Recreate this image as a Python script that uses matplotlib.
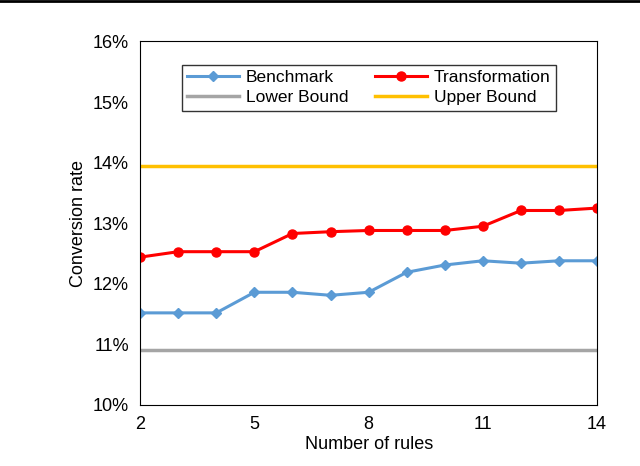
import matplotlib
matplotlib.use("Agg")
import matplotlib.pyplot as plt
from matplotlib.ticker import FuncFormatter

rules = list(range(2, 15))
benchmark = [11.52, 11.52, 11.52, 11.86, 11.86, 11.81, 11.86, 12.19, 12.31, 12.38, 12.34, 12.38, 12.38]
transformation = [12.44, 12.53, 12.53, 12.53, 12.83, 12.86, 12.88, 12.88, 12.88, 12.95, 13.21, 13.21, 13.25]
lower_bound = 10.91
upper_bound = 13.95

plt.rcParams['font.family'] = ['Liberation Sans', 'DejaVu Sans']
fig = plt.figure(figsize=(6.4, 4.66), dpi=100)
ax = fig.add_axes([0.219, 0.131, 0.714, 0.78])
ax.axhline(upper_bound, color='#FFC000', lw=2.5, label='Upper Bound')
ax.axhline(lower_bound, color='#A5A5A5', lw=2.5, label='Lower Bound')
ax.plot(rules, benchmark, color='#5B9BD5', lw=2.2, marker='D', ms=5, label='Benchmark')
ax.plot(rules, transformation, color='#FF0000', lw=2.2, marker='o', ms=6.5, label='Transformation')
ax.set_xlim(2, 14)
ax.set_ylim(10, 16)
ax.set_xticks([2, 5, 8, 11, 14])
ax.set_yticks(range(10, 17))
ax.yaxis.set_major_formatter(FuncFormatter(lambda v, p: f"{v:.0f}%"))
ax.tick_params(labelsize=13, length=0, pad=8)
ax.set_xlabel('Number of rules', fontsize=13, labelpad=2)
ax.set_ylabel('Conversion rate', fontsize=13)
for s in ax.spines.values():
    s.set_color('black')
h, l = ax.get_legend_handles_labels()
order = [2, 1, 3, 0]
ax.legend([h[i] for i in order], [l[i] for i in order], ncol=2, loc='upper center',
          bbox_to_anchor=(0.5, 0.96), fontsize=12.5, frameon=True, fancybox=False,
          edgecolor='black', handlelength=3, columnspacing=1.5, borderpad=0.3,
          labelspacing=0.3, handletextpad=0.4)
fig.add_artist(plt.Line2D([0, 1], [0.997, 0.997], color='black', lw=2, transform=fig.transFigure))
fig.savefig('out.png', dpi=100)
